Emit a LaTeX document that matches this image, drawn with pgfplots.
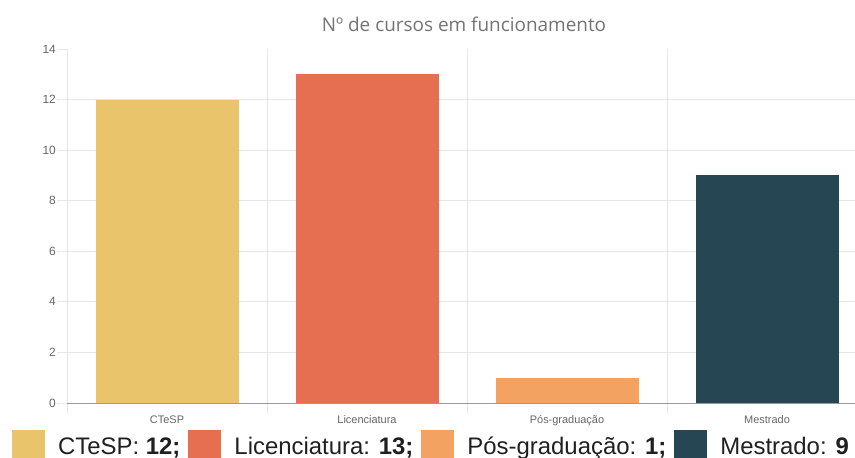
\documentclass[border=0pt]{standalone}
\usepackage{pgfplots}
\pgfplotsset{compat=1.18}
\usepackage{fontspec}
\setmainfont{Liberation Sans}
\newfontfamily\titlefont{Open Sans}
\definecolor{cA}{HTML}{E9C46A}
\definecolor{cB}{HTML}{E76F51}
\definecolor{cC}{HTML}{F4A261}
\definecolor{cD}{HTML}{264653}
\definecolor{gridc}{HTML}{E6E6E6}
\definecolor{tickc}{HTML}{666666}
\begin{document}
\begin{tikzpicture}[x=1bp,y=1bp]
\useasboundingbox (0,0) rectangle (855,458);
\begin{axis}[
  at={(67bp,55bp)}, anchor=south west,
  scale only axis, width=788bp, height=354bp,
  xmin=-0.5, xmax=3.44, ymin=0, ymax=14,
  axis line style={draw=none},
  /pgf/number format/assume math mode=true,
  xtick pos=bottom, ytick pos=left,
  xtick={0,1,2,3},
  xticklabels={CTeSP,Licenciatura,Pós-graduação,Mestrado},
  minor xtick={-0.5,0.5,1.5,2.5},
  minor x grid style={gridc, line width=0.8bp},
  xminorgrids=true,
  major x tick style={draw=none},
  minor x tick style={gridc, line width=0.8bp},
  minor tick length=10bp,
  ytick={0,2,...,12},
  extra y ticks={14},
  extra y tick style={grid=none},
  ymajorgrids=true,
  y grid style={gridc, line width=0.8bp},
  y tick style={gridc, line width=0.8bp},
  major tick length=10bp,
  tick align=outside,
  xticklabel style={font=\fontsize{11}{12}\selectfont, text=tickc, yshift=1bp},
  yticklabel style={font=\fontsize{12}{13}\selectfont, text=tickc, inner sep=1bp},
  legend columns=4,
  legend style={draw=none, fill=none, inner sep=0pt,
    at={(-0.0698,-0.1145)}, anchor=west,
    font=\fontsize{24}{25}\selectfont, text=black!88,
    nodes={inner sep=0pt},
    /tikz/every odd column/.append style={column sep=13bp},
    /tikz/every even column/.append style={column sep=8bp}},
  legend image code/.code={\fill[#1] (0bp,-11bp) rectangle (33bp,17bp);},
  clip=false,
]
\addplot[ybar, bar width=143bp, fill=cA, draw=none] coordinates {(0,12)};
\addlegendentry{CTeSP: \textbf{12;}}
\addplot[ybar, bar width=143bp, fill=cB, draw=none] coordinates {(1,13)};
\addlegendentry{Licenciatura: \textbf{13;}}
\addplot[ybar, bar width=143bp, fill=cC, draw=none] coordinates {(2,1)};
\addlegendentry{Pós-graduação: \textbf{1;}}
\addplot[ybar, bar width=143bp, fill=cD, draw=none] coordinates {(3,9)};
\addlegendentry{Mestrado: \textbf{9}}
\draw[black!40, line width=0.8bp] (axis cs:-0.5,0) -- (axis cs:3.44,0);
\end{axis}
\node[font=\titlefont\fontsize{19}{20}\selectfont, text=black!55] at (464,434) {Nº de cursos em funcionamento};
\end{tikzpicture}
\end{document}
